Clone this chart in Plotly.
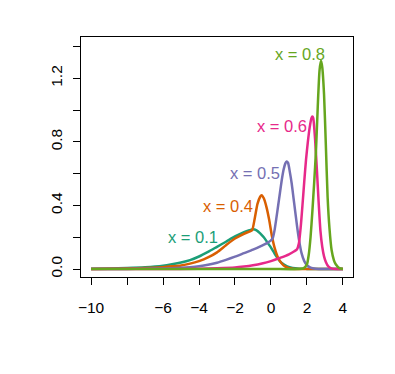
import plotly.graph_objects as go

# density curves, one per x value
x01 = [-10, -9, -8, -7, -6, -5.5, -5, -4.5, -4, -3.5, -3, -2.5, -2, -1.5, -1.2, -1.0, -0.8,
       -0.6, -0.4, -0.2, 0.0, 0.2, 0.4, 0.6, 0.9, 1.2, 1.6, 2.0, 3.0, 4.0]
y01 = [0.002, 0.003, 0.006, 0.011, 0.021, 0.030, 0.041, 0.056, 0.079, 0.108, 0.140, 0.172, 0.205,
       0.232, 0.244, 0.250, 0.244, 0.225, 0.200, 0.168, 0.135, 0.098, 0.064, 0.038, 0.016, 0.006,
       0.002, 0.001, 0, 0]

x04 = [-10, -9, -8, -7, -6, -5.5, -5, -4.5, -4, -3.5, -3, -2.5, -2, -1.5, -1.2, -1.05, -0.9,
       -0.75, -0.6, -0.52, -0.4, -0.25, -0.1, 0.05, 0.2, 0.4, 0.6, 0.8, 1.0, 1.3, 2.0, 4.0]
y04 = [0.001, 0.002, 0.003, 0.006, 0.012, 0.017, 0.023, 0.034, 0.050, 0.073, 0.105, 0.150, 0.192,
       0.222, 0.236, 0.244, 0.32, 0.41, 0.455, 0.465, 0.445, 0.39, 0.31, 0.21, 0.135, 0.07, 0.035,
       0.015, 0.005, 0.001, 0, 0]

x05 = [-10, -8, -7, -6, -5, -4.5, -4, -3.5, -3, -2.5, -2, -1.5, -1, -0.5, -0.2, 0.0, 0.1, 0.2,
       0.3, 0.4, 0.5, 0.6, 0.7, 0.8, 0.87, 0.95, 1.05, 1.15, 1.25, 1.35, 1.45, 1.55, 1.7, 1.85,
       2.0, 2.2, 2.5, 3.0, 4.0]
y05 = [0, 0.001, 0.002, 0.004, 0.008, 0.012, 0.018, 0.027, 0.040, 0.058, 0.078, 0.100, 0.122,
       0.148, 0.165, 0.180, 0.195, 0.245, 0.32, 0.40, 0.48, 0.56, 0.625, 0.665, 0.677, 0.668,
       0.61, 0.54, 0.45, 0.36, 0.27, 0.19, 0.10, 0.05, 0.025, 0.009, 0.002, 0, 0]

x06 = [-10, -6, -4, -3, -2, -1.5, -1, -0.5, 0, 0.5, 1.0, 1.3, 1.45, 1.55, 1.65, 1.75, 1.85,
       1.95, 2.05, 2.15, 2.25, 2.3, 2.35, 2.45, 2.55, 2.65, 2.75, 2.85, 2.95, 3.05, 3.2, 3.4,
       3.7, 4.0]
y06 = [0, 0, 0.002, 0.005, 0.010, 0.016, 0.024, 0.035, 0.050, 0.070, 0.093, 0.112, 0.125, 0.16,
       0.26, 0.40, 0.55, 0.69, 0.80, 0.89, 0.95, 0.96, 0.95, 0.82, 0.63, 0.42, 0.24, 0.14, 0.08,
       0.045, 0.015, 0.003, 0, 0]

x08 = [-10, 0, 1.5, 1.8, 2.0, 2.1, 2.2, 2.3, 2.4, 2.5, 2.6, 2.7, 2.78, 2.85, 2.95, 3.05, 3.15,
       3.25, 3.37, 3.5, 3.6, 3.8, 4.0]
y08 = [0, 0, 0, 0.004, 0.03, 0.09, 0.20, 0.36, 0.54, 0.74, 1.02, 1.25, 1.31, 1.27, 1.10, 0.78,
       0.45, 0.26, 0.12, 0.055, 0.03, 0.006, 0.001]

names = ["x = 0.1", "x = 0.4", "x = 0.5", "x = 0.6", "x = 0.8"]
colors = ["#1B9E77", "#D95F02", "#7570B3", "#E7298A", "#66A61E"]
label_x = [-4.36, -2.39, -0.89, 0.61, 1.64]
label_y = [0.203, 0.398, 0.606, 0.90, 1.35]

x_ticks = [-10, -8, -6, -4, -2, 0, 2, 4]
x_text = ["\u221210", "", "\u22126", "\u22124", "\u22122", "0", "2", "4"]
y_ticks = [0, 0.2, 0.4, 0.6, 0.8, 1.0, 1.2, 1.4]
y_text = ["0.0", "", "0.4", "", "0.8", "", "1.2", ""]

fig = go.Figure()
for xs, ys, c in zip([x01, x04, x05, x06, x08], [y01, y04, y05, y06, y08], colors):
    fig.add_trace(go.Scatter(x=xs, y=ys, mode="lines",
                             line=dict(color=c, width=2.5, shape="spline", smoothing=0.6)))

for t, lx, ly, c in zip(names, label_x, label_y, colors):
    fig.add_annotation(x=lx, y=ly, text=t, showarrow=False,
                       font=dict(color=c, size=16.5))

# page body adds an 8px offset, so the margins are shifted to compensate
fig.update_layout(
    width=395, height=374,
    margin=dict(l=73, r=50, t=29, b=105),
    paper_bgcolor="white", plot_bgcolor="white",
    showlegend=False,
    font=dict(family="Liberation Sans, Arial, sans-serif", color="black", size=15.5),
)
fig.update_xaxes(range=[-10.56, 4.56], showgrid=False, zeroline=False, automargin=False,
                 showline=True, linecolor="black", linewidth=1, mirror=True,
                 ticks="outside", ticklen=7, tickcolor="black",
                 tickvals=x_ticks, ticktext=x_text, ticklabelstandoff=9)
fig.update_yaxes(range=[-0.05, 1.46], showgrid=False, zeroline=False, automargin=False,
                 showline=True, linecolor="black", linewidth=1, mirror=True,
                 ticks="outside", ticklen=7, tickcolor="black",
                 tickvals=y_ticks, ticktext=y_text, tickangle=-90, ticklabelstandoff=5)

fig.write_html("out.html")
